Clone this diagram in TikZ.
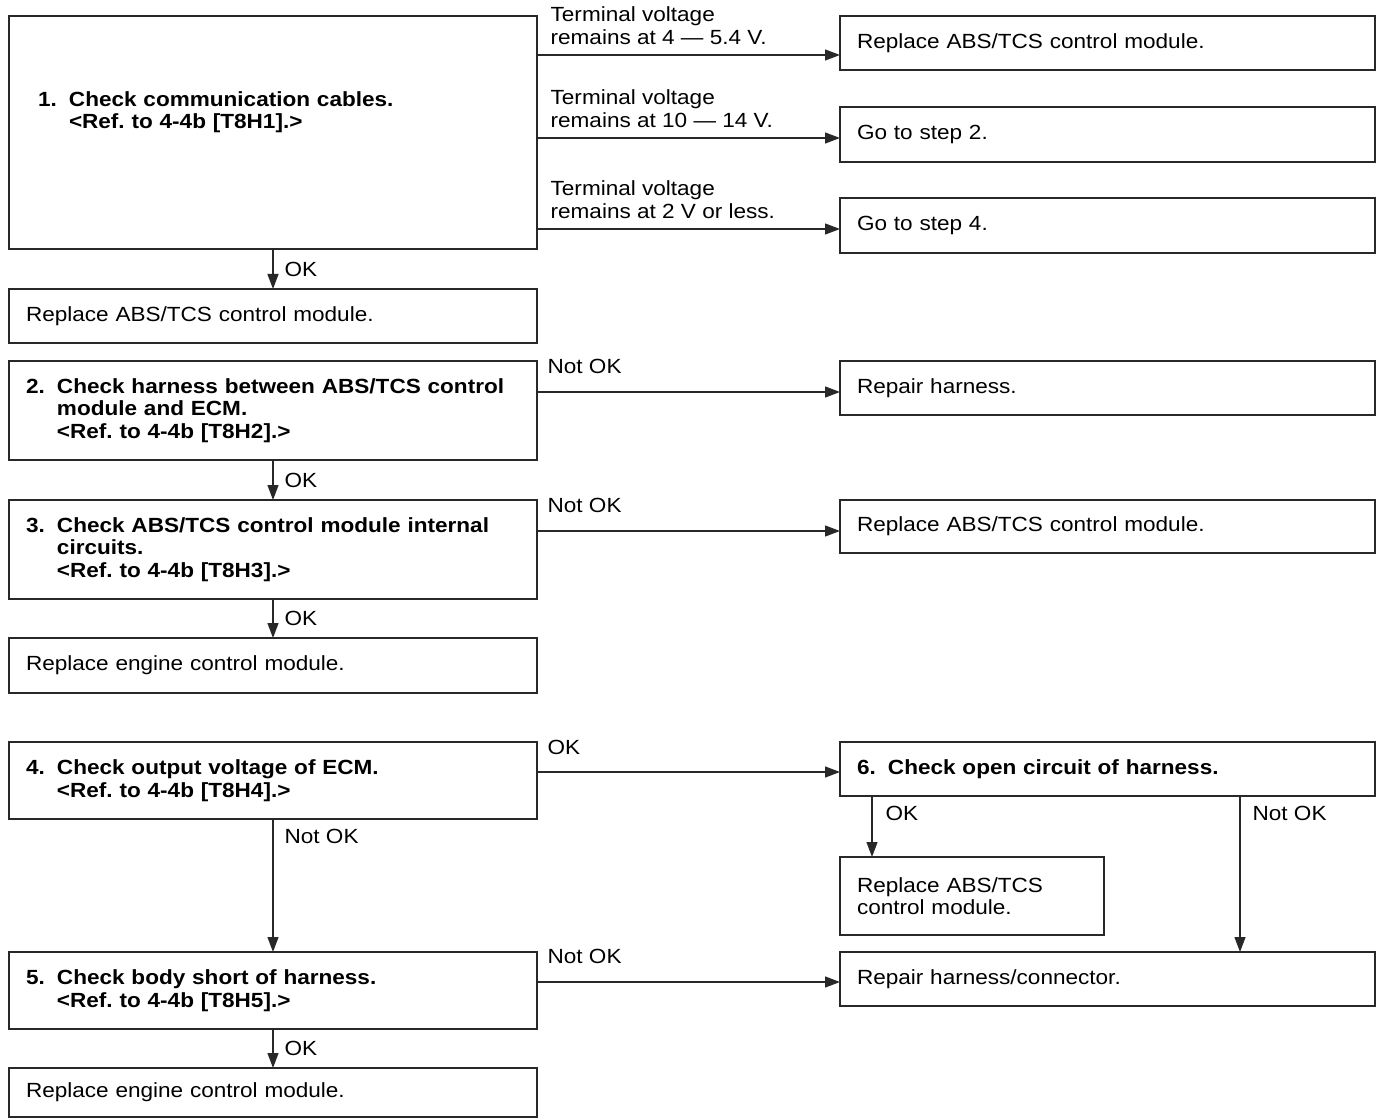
\documentclass[tikz,border=0pt]{standalone}
\usepackage{fontspec}
\setmainfont{Liberation Sans}[FakeStretch=1.1]
\usetikzlibrary{arrows.meta}
\frenchspacing

\definecolor{ink}{RGB}{40,40,40}
\newcommand{\flowfont}{\fontsize{20.5pt}{22.5pt}\selectfont}
\newcommand{\stepno}[1]{\makebox[31pt][l]{#1}}
\newcommand{\stepind}{\hspace*{31pt}}

\tikzset{
    box/.style={draw=ink, line width=1.6pt, rectangle, anchor=north west, outer sep=0pt,
        inner xsep=17pt, inner ysep=2pt, align=left, text width=#1, font=\flowfont},
    box/.default=494pt,
    check/.style={box=#1, font=\flowfont\bfseries},
    check/.default=494pt,
    arr/.style={draw=ink, line width=1.3pt, -{Triangle[length=15pt,width=11pt]}},
    lbl/.style={inner sep=0pt, align=left, font=\flowfont},
}

\begin{document}
\begin{tikzpicture}[x=1pt, y=-1pt]
    \useasboundingbox (0,0) rectangle (1377,1118);
    % step 1 and its three results
    \node[check=470pt, inner xsep=29pt, minimum height=233pt] (s1) at (9,16) {\stepno{1.}Check communication cables.\\\stepind<Ref. to 4-4b [T8H1].>\\[22.5pt]\mbox{}};
    \node[box=501pt, minimum height=54pt] (r1a) at (840,16) {Replace ABS/TCS control module.};
    \node[box=501pt, minimum height=55pt] (r1b) at (840,107) {Go to step 2.};
    \node[box=501pt, minimum height=55pt] (r1c) at (840,198) {Go to step 4.};
    \node[box, minimum height=54pt] (e1) at (9,289) {Replace ABS/TCS control module.};
    % steps 2 and 3
    \node[check, minimum height=99pt] (s2) at (9,361) {\stepno{2.}Check harness between ABS/TCS control\\\stepind module and ECM.\\\stepind<Ref. to 4-4b [T8H2].>};
    \node[box=501pt, minimum height=54pt] (r2) at (840,361) {Repair harness.};
    \node[check, minimum height=99pt] (s3) at (9,500) {\stepno{3.}Check ABS/TCS control module internal\\\stepind circuits.\\\stepind<Ref. to 4-4b [T8H3].>};
    \node[box=501pt, minimum height=53pt] (r3) at (840,500) {Replace ABS/TCS control module.};
    \node[box, minimum height=55pt] (e3) at (9,638) {Replace engine control module.};
    % steps 4, 5 and 6
    \node[check, minimum height=77pt] (s4) at (9,742) {\stepno{4.}Check output voltage of ECM.\\\stepind<Ref. to 4-4b [T8H4].>};
    \node[check=501pt, minimum height=54pt] (s6) at (840,742) {\stepno{6.}Check open circuit of harness.};
    \node[box=230pt, minimum height=78pt] (r6) at (840,857) {Replace ABS/TCS\\control module.};
    \node[check, minimum height=77pt] (s5) at (9,952) {\stepno{5.}Check body short of harness.\\\stepind<Ref. to 4-4b [T8H5].>};
    \node[box=501pt, minimum height=54pt] (r5) at (840,952) {Repair harness/connector.};
    \node[box, minimum height=49pt] (e5) at (9,1068) {Replace engine control module.};

    % arrow ends on the right column
    \coordinate (r1ain) at ([yshift=-39pt]r1a.north west);
    \coordinate (r1bin) at ([yshift=-31pt]r1b.north west);
    \coordinate (r1cin) at ([yshift=-31pt]r1c.north west);
    \coordinate (r2in) at ([yshift=-31pt]r2.north west);
    \coordinate (r3in) at ([yshift=-31pt]r3.north west);
    \coordinate (s6in) at ([yshift=-30pt]s6.north west);
    \coordinate (r5in) at ([yshift=-30pt]r5.north west);

    \draw[arr] (s1.east |- r1ain) node[lbl, anchor=south west, xshift=13pt, yshift=10pt] (l1a) {Terminal voltage\\remains at 4 --- 5.4 V.} -- (r1ain);
    \draw[arr] (s1.east |- r1bin) node[lbl, anchor=south west, xshift=13pt, yshift=10pt] (l1b) {Terminal voltage\\remains at 10 --- 14 V.} -- (r1bin);
    \draw[arr] (s1.east |- r1cin) node[lbl, anchor=south west, xshift=13pt, yshift=10pt] (l1c) {Terminal voltage\\remains at 2 V or less.} -- (r1cin);
    \draw[arr] (s1.south) -- node[lbl, right=11pt] (ok1) {OK} (e1.north);

    \draw[arr] (s2.east |- r2in) node[lbl, anchor=south west, xshift=10pt, yshift=18pt] (no2) {Not OK} -- (r2in);
    \draw[arr] (s2.south) -- node[lbl, right=11pt] (ok2) {OK} (s3.north);
    \draw[arr] (s3.east |- r3in) node[lbl, anchor=south west, xshift=10pt, yshift=18pt] (no3) {Not OK} -- (r3in);
    \draw[arr] (s3.south) -- node[lbl, right=11pt] (ok3) {OK} (e3.north);

    \draw[arr] (s4.east |- s6in) node[lbl, anchor=south west, xshift=10pt, yshift=17pt] (ok4) {OK} -- (s6in);
    \draw[arr] (s4.south) node[lbl, anchor=north west, xshift=11pt, yshift=-10pt] (no4) {Not OK} -- (s5.north);
    \draw[arr] ([xshift=32pt]s6.south west) node[lbl, anchor=north west, xshift=13pt, yshift=-10pt] (ok6) {OK} -- ([xshift=32pt]r6.north west);
    \draw[arr] ([xshift=400pt]s6.south west) node[lbl, anchor=north west, xshift=12pt, yshift=-10pt] (no6) {Not OK} -- ([xshift=400pt]r5.north west);
    \draw[arr] (s5.east |- r5in) node[lbl, anchor=south west, xshift=10pt, yshift=18pt] (no5) {Not OK} -- (r5in);
    \draw[arr] (s5.south) -- node[lbl, right=11pt] (ok5) {OK} (e5.north);
\end{tikzpicture}
\end{document}
